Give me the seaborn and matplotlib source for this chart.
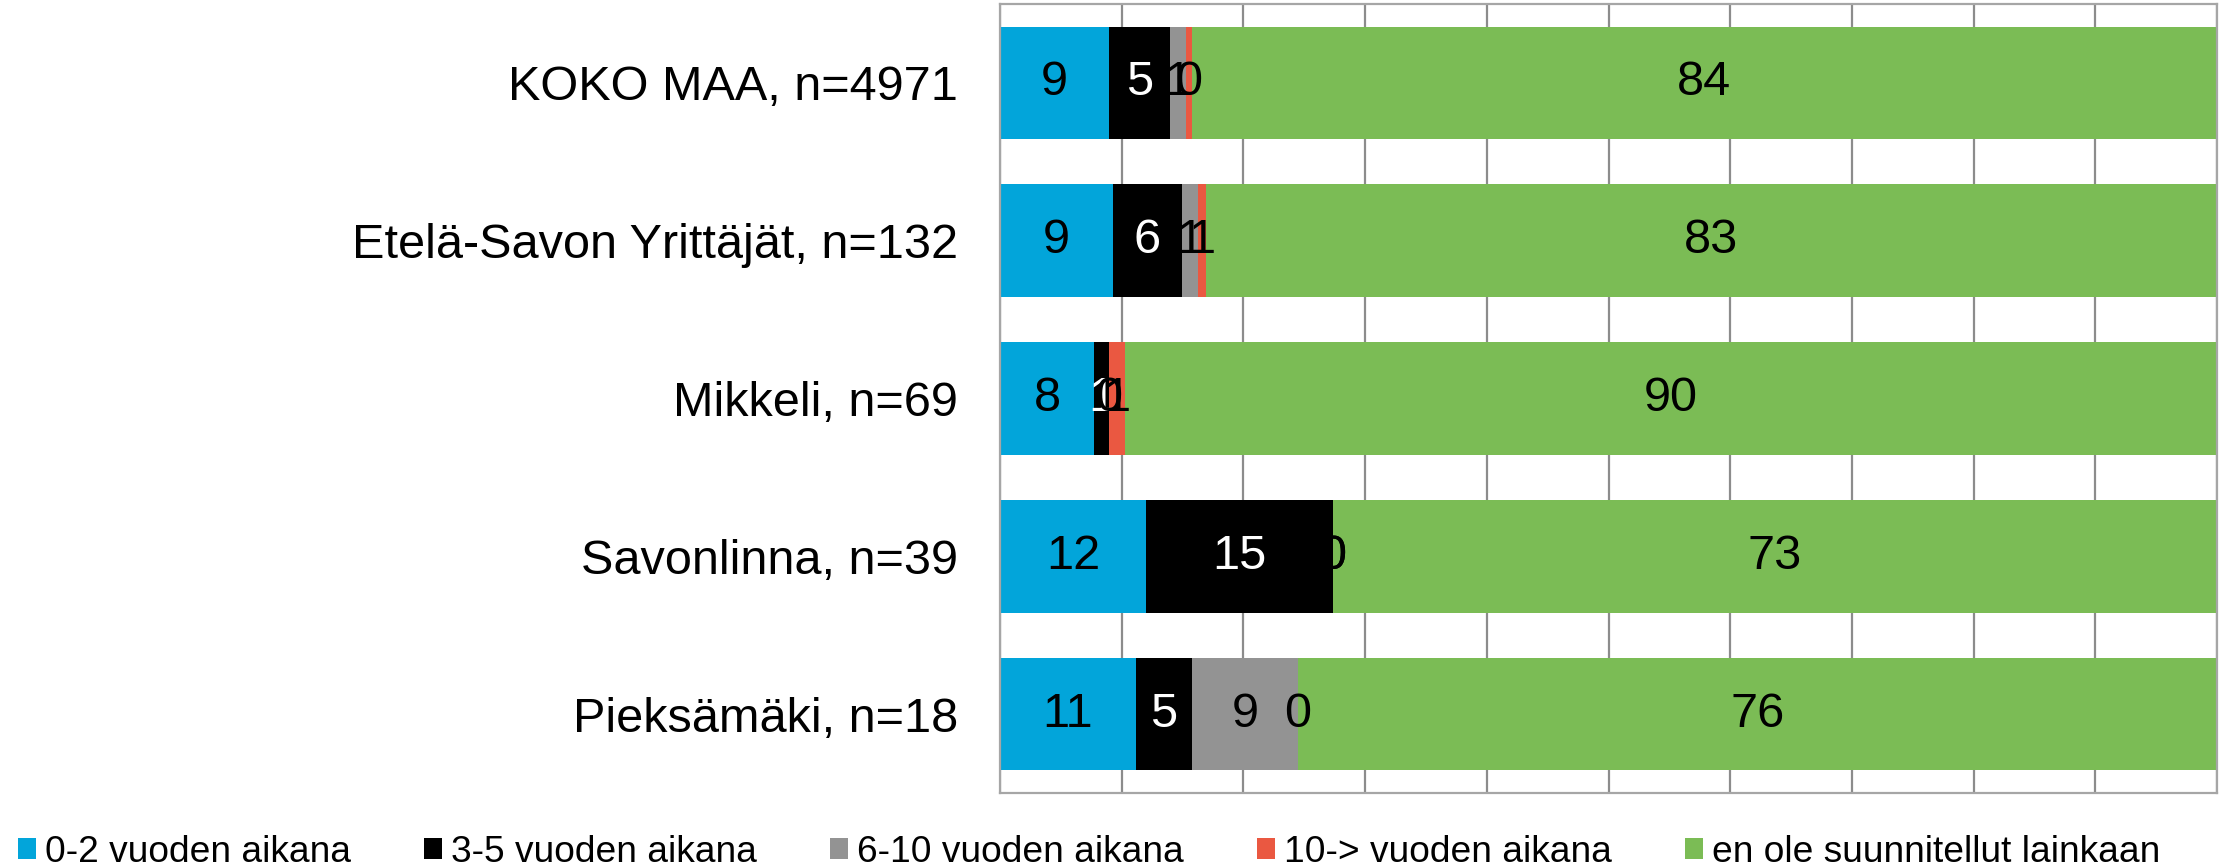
import numpy as np
import pandas as pd
import matplotlib
matplotlib.use("Agg")
import matplotlib.pyplot as plt
import seaborn as sns
from matplotlib.patches import Patch

categories = ["KOKO MAA, n=4971", "Etelä-Savon Yrittäjät, n=132", "Mikkeli, n=69",
              "Savonlinna, n=39", "Pieksämäki, n=18"]
series_names = ["0-2 vuoden aikana", "3-5 vuoden aikana", "6-10 vuoden aikana",
                "10-> vuoden aikana", "en ole suunnitellut lainkaan"]
v_0_2 = [8.96, 9.26, 7.76, 12.03, 11.18]
v_3_5 = [5.01, 5.69, 1.18, 15.31, 4.60]
v_6_10 = [1.35, 1.29, 0.00, 0.00, 8.71]
v_10 = [0.44, 0.68, 1.31, 0.00, 0.00]
v_none = [84.24, 83.08, 89.75, 72.66, 75.51]

colors = ["#02A5DA", "#000000", "#939393", "#EA5841", "#7BBC55"]
label_colors = ["black", "white", "black", "black", "black"]

sns.set_style("white")
plt.rcParams["font.family"] = ["Liberation Sans", "DejaVu Sans"]

values = np.array([v_0_2, v_3_5, v_6_10, v_10, v_none])
cum = np.cumsum(values, axis=0)
starts = cum - values

fig = plt.figure(figsize=(22.21, 8.67), dpi=100)
ax = fig.add_axes([1000 / 2221, 1 - 793 / 867, 1217 / 2221, 789 / 867])

for i in reversed(range(len(series_names))):
    df = pd.DataFrame({"cat": categories, "cum": cum[i]})
    sns.barplot(data=df, x="cum", y="cat", order=categories, orient="h",
                color=colors[i], width=0.713, errorbar=None, ax=ax,
                saturation=1, zorder=2, linewidth=0, edgecolor="none")

for i in range(len(series_names)):
    for j in range(len(categories)):
        xc = starts[i, j] + values[i, j] / 2
        ax.text(xc, j, f"{values[i, j]:.0f}", ha="center", va="center",
                fontsize=35, color=label_colors[i], zorder=5)

ax.set_xlim(0, 100)
ax.set_ylim(4.5, -0.5)
ax.set_xticks(np.arange(0, 101, 10))
ax.xaxis.grid(True, color="#8c8c8c", lw=1.6)
ax.set_axisbelow(True)
ax.tick_params(axis="x", labelbottom=False, length=0)
ax.tick_params(axis="y", length=0, labelsize=35, pad=30, labelcolor="black")
ax.set_xlabel("")
ax.set_ylabel("")
for s in ax.spines.values():
    s.set_visible(True)
    s.set_color("#a6a6a6")
    s.set_linewidth(1.6)

handles = [Patch(facecolor=c, edgecolor="none") for c in colors]
fig.legend(handles, series_names, loc="center left", bbox_to_anchor=(18 / 2221, 0.017),
           ncol=5, frameon=False, fontsize=26.7, handlelength=0.49, handleheight=0.51,
           handletextpad=0.24, columnspacing=1.97, borderaxespad=0, borderpad=0,
           labelcolor="black")

fig.savefig("out.png", dpi=100)
